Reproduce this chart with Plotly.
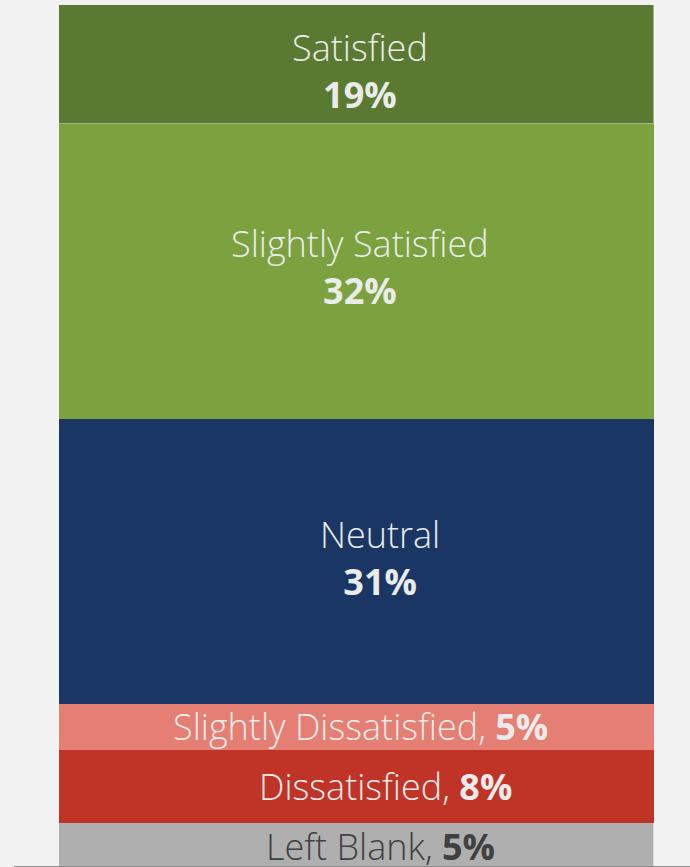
import plotly.graph_objects as go

categories = ["Left Blank", "Dissatisfied", "Slightly Dissatisfied", "Neutral", "Slightly Satisfied", "Satisfied"]
values = [5, 8, 5, 31, 32, 19]
colors = ["#afafaf", "#bf3427", "#e57f73", "#1a3665", "#7ba23f", "#5b7a31"]
text_colors = ["#404040", "#ebebeb", "#ebebeb", "#ebebeb", "#ebebeb", "#ebebeb"]
line_colors = ["#d9d9d9", "#bf3427", "#e57f73", "#1a3665", "#7ba23f", "#a3b592"]
two_line = [False, False, False, True, True, True]
label_x = [0.54, 0.548, 0.506, 0.54, 0.506, 0.506]
label_shift = [0, 0, 0, 3, 5, -6]

y_range = [0.22, 94.0]

fig = go.Figure()
for cat, val, col, lc in zip(categories, values, colors, line_colors):
    fig.add_trace(go.Bar(x=["Responses"], y=[val], name=cat, marker_color=col,
                         marker_line=dict(color=lc, width=1.5), hoverinfo="name+y"))

annotations = []
base = 0
for cat, val, tc, tl, lx, sh in zip(categories, values, text_colors, two_line, label_x, label_shift):
    top = min(base + val, y_range[1])
    mid = (base + top) / 2
    if tl:
        txt = "%s<br><b>%d%%</b>" % (cat, val)
    else:
        txt = "%s, <b>%d%%</b>" % (cat, val)
    annotations.append(dict(text=txt, x=lx, xref="paper", y=mid, yref="y", yshift=sh, showarrow=False,
                            font=dict(size=36, color=tc, family="Open Sans", weight=300)))
    base += val

fig.update_layout(
    width=690,
    height=867,
    barmode="stack",
    bargap=0,
    showlegend=False,
    paper_bgcolor="#f2f2f2",
    plot_bgcolor="white",
    margin=dict(l=59, r=36, t=5, b=0),
    xaxis=dict(visible=False),
    yaxis=dict(visible=False, range=y_range),
    annotations=annotations,
    shapes=[dict(type="line", xref="paper", yref="paper", x0=-0.076, x1=1.07, y0=0, y1=0,
                 line=dict(color="#8c8c8c", width=2))]
)

# drop the default page margin so the figure sits at the window's corner
fig.write_html("out.html", config={"displayModeBar": False},
               post_script="document.body.style.margin='0';document.body.style.overflow='hidden';")
